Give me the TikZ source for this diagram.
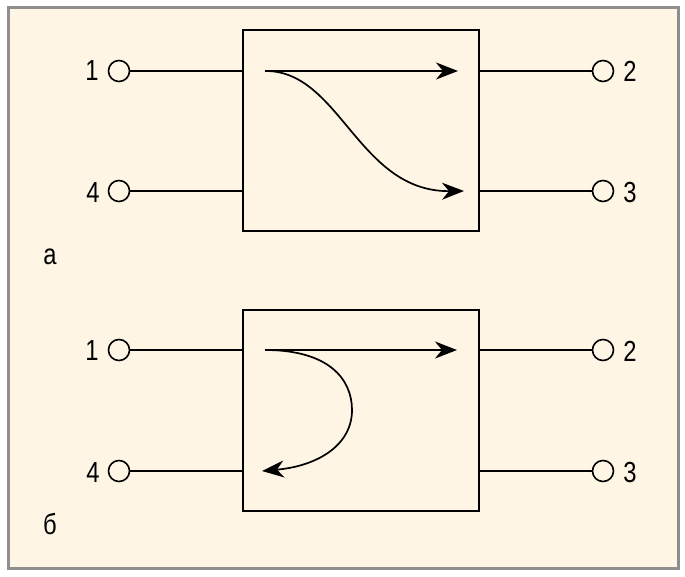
\documentclass[tikz,border=0pt]{standalone}
\usepackage{fontspec}
\setmainfont{Liberation Sans}[FakeStretch=0.82]
\usetikzlibrary{arrows.meta}
\definecolor{paper}{HTML}{FEF5E4}
\definecolor{frame}{HTML}{8E8E8E}
\tikzset{
  port/.style={circle,draw,line width=1.6pt,fill=paper,inner sep=0pt,minimum size=21pt},
  coupler/.style={rectangle,draw,line width=2pt,minimum width=236pt,minimum height=201pt},
  wire/.style={line width=1.6pt},
  flow/.style={line width=1.7pt,-{Stealth[length=22pt,width=17pt,inset=7pt]}},
  txt/.style={font=\fontsize{29}{32}\selectfont}
}
\begin{document}
\begin{tikzpicture}[x=1pt,y=-1pt]
  \useasboundingbox (0,0) rectangle (685,576);
  \draw[frame,line width=3pt,fill=paper] (8,7) rectangle (678,568);

  % panel a
  \node[coupler] (boxa) at (360.5,130.5) {};
  \node[port] (a1) at (119,71) {};
  \node[port] (a4) at (119,191) {};
  \node[port] (a2) at (603,71) {};
  \node[port] (a3) at (603,191) {};
  \foreach \p in {a1,a4}
    \draw[wire] (\p) -- (\p -| boxa.west);
  \foreach \p in {a2,a3}
    \draw[wire] (\p) -- (\p -| boxa.east);
  \node[txt] (na1) at (92,71) {1};
  \node[txt] (na4) at (93,193) {4};
  \node[txt] (na2) at (630,71) {2};
  \node[txt] (na3) at (630,193) {3};
  \node[txt] (na) at (50,257) {а};
  \coordinate (sa) at (265,71);
  \coordinate (ta2) at (458,71);
  \coordinate (ta3) at (464,191);
  \draw[flow] (sa) -- (ta2);
  \draw[flow] (sa) .. controls (340,70) and (358,192) .. (ta3);

  % panel b
  \node[coupler] (boxb) at (360.5,410.5) {};
  \node[port] (b1) at (119,350) {};
  \node[port] (b4) at (119,471) {};
  \node[port] (b2) at (603,350) {};
  \node[port] (b3) at (603,471) {};
  \foreach \p in {b1,b4}
    \draw[wire] (\p) -- (\p -| boxb.west);
  \foreach \p in {b2,b3}
    \draw[wire] (\p) -- (\p -| boxb.east);
  \node[txt] (nb1) at (92,351) {1};
  \node[txt] (nb4) at (93,473) {4};
  \node[txt] (nb2) at (630,351) {2};
  \node[txt] (nb3) at (630,473) {3};
  \node[txt] (nb) at (50,524) {б};
  \coordinate (sb) at (265,350);
  \coordinate (tb2) at (457,350);
  \coordinate (tb4) at (262,471);
  \draw[flow] (sb) -- (tb2);
  \draw[flow] (sb) .. controls (330,350) and (352,380) .. (352,410)
    .. controls (352,445) and (318,466) .. (tb4);
\end{tikzpicture}
\end{document}
